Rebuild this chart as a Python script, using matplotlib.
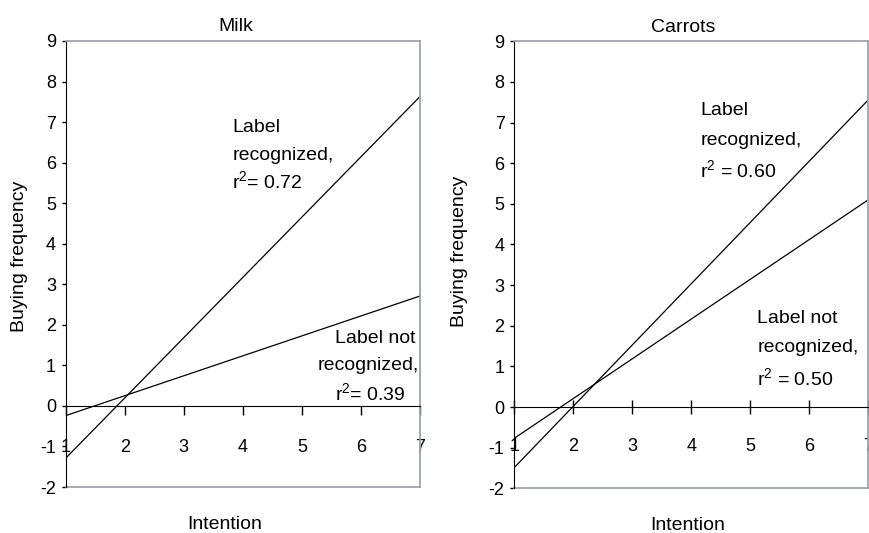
import matplotlib.pyplot as plt

plt.rcParams["font.family"] = ["Liberation Sans", "DejaVu Sans"]
plt.rcParams["axes.unicode_minus"] = False

# regression lines: buying frequency predicted at intention = 1 and 7
intention = [1, 7]
milk_recognized = [-1.29, 7.63]
milk_not_recognized = [-0.24, 2.71]
carrots_recognized = [-1.49, 7.56]
carrots_not_recognized = [-0.77, 5.10]

panel_titles = ["Milk", "Carrots"]
x_ticks = [1, 2, 3, 4, 5, 6, 7]
y_ticks = [-2, -1, 0, 1, 2, 3, 4, 5, 6, 7, 8, 9]
r2_milk = ["0.72", "0.39"]
r2_carrots = ["0.60", "0.50"]

frame_grey = "#9ea3aa"

fig = plt.figure(figsize=(8.69, 5.33), dpi=100)
ax_milk = fig.add_axes([0.0756, 0.0863, 0.4077, 0.8368])
ax_carrots = fig.add_axes([0.5918, 0.0839, 0.4074, 0.8386])


def setup_axes(ax, title, tick_dir, tick_len, title_x, ylabel_x, ylabel_y, xlabel_x):
    ax.set_xlim(1, 7)
    ax.set_ylim(-2, 9)
    ax.set_xticks(x_ticks)
    ax.set_yticks(y_ticks)
    ax.spines["bottom"].set_position(("data", 0))
    ax.spines["bottom"].set_color("black")
    ax.spines["left"].set_color("black")
    for side in ["top", "right"]:
        ax.spines[side].set_color(frame_grey)
        ax.spines[side].set_linewidth(1.3)
    # bottom edge of the plot frame sits at y = -2
    ax.plot([0, 1], [0, 0], transform=ax.transAxes, color=frame_grey,
            lw=1.3, clip_on=False)
    ax.tick_params(axis="x", direction=tick_dir, length=tick_len, width=1,
                   pad=17, labelsize=13)
    ax.tick_params(axis="y", direction="out", length=3, width=1,
                   pad=4, labelsize=13)
    ax.set_title(title, fontsize=14, x=title_x, pad=7)
    ax.text(ylabel_x, ylabel_y, "Buying frequency", transform=ax.transAxes,
            rotation=90, ha="center", va="center", fontsize=14)
    ax.text(xlabel_x, -0.094, "Intention", transform=ax.transAxes,
            ha="center", va="baseline", fontsize=14)


setup_axes(ax_milk, panel_titles[0], "out", 6.5, 0.48, -0.130, 0.516, 0.45)
setup_axes(ax_carrots, panel_titles[1], "inout", 10, 0.478, -0.155, 0.529, 0.489)

ax_milk.plot(intention, milk_recognized, color="black", lw=0.9)
ax_milk.plot(intention, milk_not_recognized, color="black", lw=0.9)
ax_carrots.plot(intention, carrots_recognized, color="black", lw=0.9)
ax_carrots.plot(intention, carrots_not_recognized, color="black", lw=0.9)

fs = 14

# Milk annotations
ax_milk.text(3.82, 6.76, "Label", fontsize=fs, va="baseline")
ax_milk.text(3.82, 6.07, "recognized,", fontsize=fs, va="baseline")
ax_milk.text(3.82, 5.37, r"$\mathregular{r^2}$= " + r2_milk[0], fontsize=fs, va="baseline")
ax_milk.text(6.24, 1.55, "Label not", fontsize=fs, va="baseline", ha="center")
ax_milk.text(6.13, 0.89, "recognized,", fontsize=fs, va="baseline", ha="center")
ax_milk.text(6.16, 0.15, r"$\mathregular{r^2}$= " + r2_milk[1], fontsize=fs, va="baseline", ha="center")

# Carrots annotations
ax_carrots.text(4.15, 7.19, "Label", fontsize=fs, va="baseline")
ax_carrots.text(4.15, 6.45, "recognized,", fontsize=fs, va="baseline")
ax_carrots.text(4.15, 5.67, r"$\mathregular{r^2}$ = " + r2_carrots[0], fontsize=fs, va="baseline")
ax_carrots.text(5.12, 2.06, "Label not", fontsize=fs, va="baseline")
ax_carrots.text(5.12, 1.36, "recognized,", fontsize=fs, va="baseline")
ax_carrots.text(5.12, 0.54, r"$\mathregular{r^2}$ = " + r2_carrots[1], fontsize=fs, va="baseline")

fig.savefig("out.png", dpi=100)
